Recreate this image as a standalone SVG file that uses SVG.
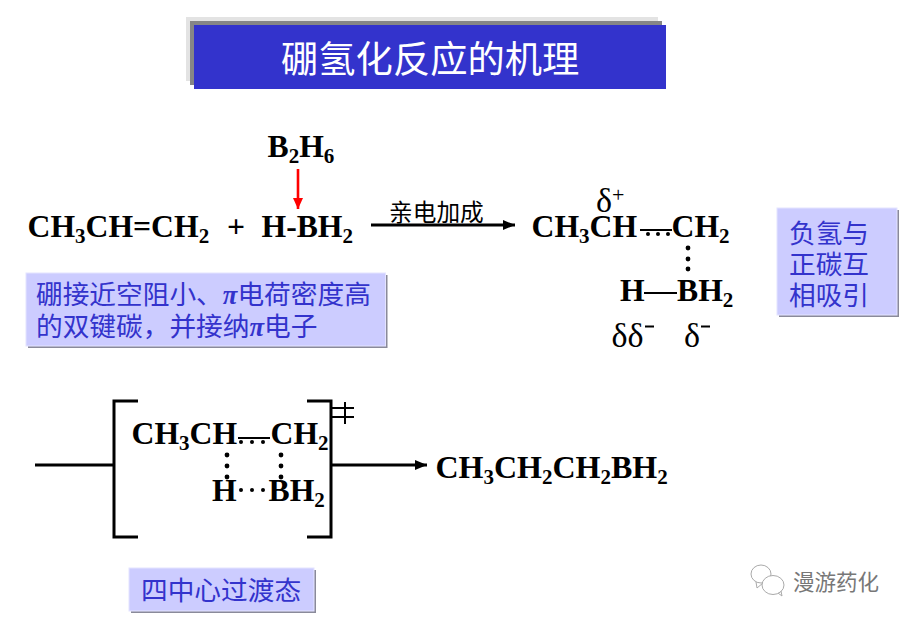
<svg xmlns="http://www.w3.org/2000/svg" width="909" height="622" viewBox="0 0 909 622">
<defs>
<marker id="ah" markerUnits="userSpaceOnUse" markerWidth="13" markerHeight="11" refX="12" refY="5" orient="auto"><path d="M0 0L12 5L0 10z" fill="#000"/></marker>
<marker id="ar" markerUnits="userSpaceOnUse" markerWidth="10" markerHeight="12" refX="11" refY="5" orient="auto"><path d="M0 0L11 5L0 10z" fill="#f00"/></marker>
</defs>
<style>
.f{font-family:"Liberation Serif","Times New Roman",serif;font-weight:bold;font-size:31.7px;fill:#000}
.s{font-size:21px}
.d{font-family:"Liberation Serif",serif;font-size:34px;fill:#000}
.n{font-family:"Liberation Serif","Noto Sans CJK SC",sans-serif;font-size:26.7px;fill:#3333cc}
.pi{font-family:"Liberation Serif",serif;font-style:italic;font-weight:bold}
.box{fill:#ccccff;stroke:#e4e4ff;stroke-width:1}
.sh{fill:#8a8a9a}
.l{fill:none;stroke:#000;stroke-width:3}
.t{fill:none;stroke:#000;stroke-width:2}
.wm{fill:none;stroke:#aaa;stroke-width:1}
</style>
<rect width="909" height="622" fill="#fff"/>
<g id="title">
<rect x="186" y="17" width="472" height="64" fill="#e3e3e3"/>
<rect x="190" y="21" width="472" height="64" fill="#868686"/>
<rect x="194" y="25" width="472" height="64" fill="#3333cc"/>
<text x="281" y="73" font-family="'Noto Sans CJK SC',sans-serif" font-size="37.3" fill="#fff">硼氢化反应的机理</text>
</g>
<g id="connectors">
<line x1="298" y1="169" x2="298" y2="209" stroke="#f00" stroke-width="2.6" marker-end="url(#ar)"/>
<line x1="371" y1="225" x2="515" y2="225" stroke="#000" stroke-width="3" marker-end="url(#ah)"/>
<line class="l" x1="35" y1="465" x2="114" y2="465"/>
<line class="l" x1="331" y1="465" x2="427" y2="465" marker-end="url(#ah)"/>
</g>
<g id="diborane"><text class="f" x="267.500" y="157">B<tspan class="s" dy="6">2</tspan><tspan dy="-6">H</tspan><tspan class="s" dy="6">6</tspan></text></g>
<g id="propene"><text class="f" x="27.500" y="237">CH<tspan class="s" dy="6">3</tspan><tspan dy="-6">CH=CH</tspan><tspan class="s" dy="6">2</tspan></text></g>
<g id="plus"><text class="f" x="227" y="237">+</text></g>
<g id="borane"><text class="f" x="261.500" y="237">H-BH<tspan class="s" dy="6">2</tspan></text></g>
<g id="reaction-label"><text x="389" y="221" font-family="'Noto Sans CJK SC',sans-serif" font-size="23.7" fill="#000">亲电加成</text></g>
<g id="note-steric">
<rect class="sh" x="28" y="275" width="359.500" height="73"/>
<rect class="box" x="26" y="273" width="359.500" height="73"/>
<text class="n" x="36" y="304">硼接近空阻小、<tspan class="pi">π</tspan>电荷密度高</text>
<text class="n" x="36" y="336">的双键碳，并接纳<tspan class="pi">π</tspan>电子</text>
</g>
<g id="intermediate">
<text class="d" x="596" y="212">δ<tspan font-size="22" dy="-10">+</tspan></text>
<text class="f" x="531.500" y="237">CH<tspan class="s" dy="6">3</tspan><tspan dy="-6">CH</tspan></text>
<text class="f" x="671.500" y="237">CH<tspan class="s" dy="6">2</tspan></text>
<line class="t" x1="640" y1="230" x2="672" y2="230"/>
<circle cx="648" cy="234" r="2"/><circle cx="658" cy="234" r="2"/><circle cx="668" cy="234" r="2"/>
<circle cx="688" cy="248" r="2.4"/><circle cx="688" cy="259" r="2.4"/><circle cx="688" cy="269" r="2.4"/>
<text class="f" x="620" y="301">H</text>
<line class="t" x1="644" y1="293" x2="677" y2="293"/>
<text class="f" x="677" y="301">BH<tspan class="s" dy="6">2</tspan></text>
<text class="d" x="611.500" y="347">δδ</text>
<text class="d" x="684" y="347">δ</text>
<path class="t" d="M645 326.500H654M701 326.500H710"/>
</g>
<g id="note-attraction">
<rect class="sh" x="779" y="210" width="120" height="107"/>
<rect class="box" x="777" y="208" width="120" height="107"/>
<text class="n" x="789" y="243">负氢与</text>
<text class="n" x="789" y="274">正碳互</text>
<text class="n" x="789" y="305">相吸引</text>
</g>
<g id="transition-state">
<path class="l" d="M138 401H114V537H138"/>
<path class="l" d="M307 401H331V537H307"/>
<path class="t" d="M331 408H354M331 417H354M345 402V424"/>
<text class="f" x="131.500" y="444">CH<tspan class="s" dy="6">3</tspan><tspan dy="-6">CH</tspan></text>
<text class="f" x="270.500" y="444">CH<tspan class="s" dy="6">2</tspan></text>
<line class="t" x1="238" y1="438" x2="270" y2="438"/>
<circle cx="241" cy="442" r="2"/><circle cx="252" cy="442" r="2"/><circle cx="263" cy="442" r="2"/>
<circle cx="227" cy="455" r="2.4"/><circle cx="227" cy="466" r="2.4"/><circle cx="227" cy="477" r="2.4"/>
<circle cx="281" cy="455" r="2.4"/><circle cx="281" cy="466" r="2.4"/><circle cx="281" cy="477" r="2.4"/>
<text class="f" x="212" y="501">H</text>
<circle cx="241" cy="490" r="2"/><circle cx="252" cy="490" r="2"/><circle cx="263" cy="490" r="2"/>
<text class="f" x="268.500" y="501">BH<tspan class="s" dy="6">2</tspan></text>
</g>
<g id="product"><text class="f" x="435.500" y="478" style="font-size:32px">CH<tspan class="s" dy="6">3</tspan><tspan dy="-6">CH</tspan><tspan class="s" dy="6">2</tspan><tspan dy="-6">CH</tspan><tspan class="s" dy="6">2</tspan><tspan dy="-6">BH</tspan><tspan class="s" dy="6">2</tspan></text></g>
<g id="note-ts">
<rect class="sh" x="131" y="570" width="185" height="43"/>
<rect class="box" x="129" y="568" width="185" height="43"/>
<text class="n" x="141" y="600">四中心过渡态</text>
</g>
<g id="watermark">
<ellipse class="wm" cx="761" cy="574" rx="10" ry="9"/>
<path class="wm" d="M756 582L757 588L763 583"/>
<ellipse cx="773" cy="585" rx="11" ry="9.500" fill="#fff" stroke="#aaa"/>
<path class="wm" d="M778 593L782 596L781 591"/>
<text x="793" y="590" font-family="'Noto Sans CJK SC',sans-serif" font-size="21.500" fill="#777">漫游药化</text>
</g>
</svg>
